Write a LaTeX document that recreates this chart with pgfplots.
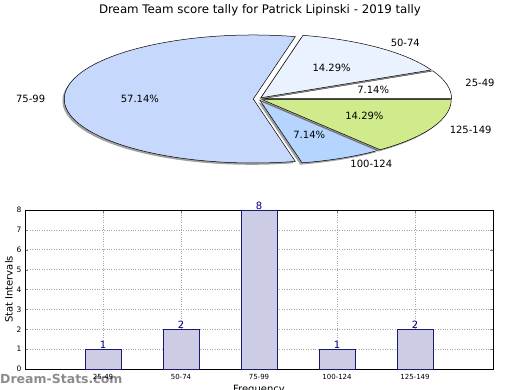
\documentclass[border=0pt]{standalone}
\usepackage{pgfplots}
\pgfplotsset{compat=1.18}
\usepackage{fontspec}
\setmainfont{DejaVu Sans}
\definecolor{pA}{HTML}{EBF2FF}
\definecolor{pB}{HTML}{C6D9FD}
\definecolor{pC}{HTML}{B5D5FF}
\definecolor{pD}{HTML}{D0EB8B}
\definecolor{barfill}{HTML}{CCCCE5}
\definecolor{baredge}{HTML}{191970}
\definecolor{lblnavy}{HTML}{000080}
\definecolor{wm}{HTML}{8C8C8C}
\begin{document}
\begin{tikzpicture}[x=1pt,y=1pt]
\useasboundingbox (0,0) rectangle (520,390);
\clip (0,0) rectangle (520,390);
\node[font=\fontsize{11.8}{14}\selectfont] at (260,380) {Dream Team score tally for Patrick Lipinski - 2019 tally};
% pie
\begin{axis}[at={(258pt,291pt)}, anchor=center, scale only axis, width=378pt, height=128pt,
  xmin=-1, xmax=1, ymin=-1, ymax=1, hide axis, clip=false]
\addplot[draw=none] coordinates {(0,0)};
\pgfplotsextra{
  \gdef\cum{0}
  \foreach \v/\lab/\pct/\col in {1/25-49/7.14/white, 2/50-74/14.29/pA, 8/75-99/57.14/pB, 1/100-124/7.14/pC, 2/125-149/14.29/pD} {
    \pgfmathsetmacro\a{\cum/14*360}
    \pgfmathsetmacro\b{(\cum+\v)/14*360}
    \pgfmathsetmacro\m{(\a+\b)/2}
    \pgfmathsetmacro\ox{0.025*cos(\m)}
    \pgfmathsetmacro\oy{0.025*sin(\m)}
    \pgfmathsetmacro\sx{\ox+cos(\a)}
    \pgfmathsetmacro\sy{\oy+sin(\a)}
    \pgfmathsetmacro\lx{\ox+1.1*cos(\m)}
    \pgfmathsetmacro\ly{\oy+1.1*sin(\m)}
    \pgfmathsetmacro\px{\ox+0.6*cos(\m)}
    \pgfmathsetmacro\py{\oy+0.6*sin(\m)}
    \pgfmathsetmacro\cm{cos(\m)}
    \fill[gray, opacity=0.75, shift={(-1.8pt,-1.8pt)}] (axis cs:\ox,\oy) -- (axis cs:\sx,\sy) arc[start angle=\a, end angle=\b, x radius=189pt, y radius=64pt] -- cycle;
    \filldraw[fill=\col, draw=black, line width=0.5pt] (axis cs:\ox,\oy) -- (axis cs:\sx,\sy) arc[start angle=\a, end angle=\b, x radius=189pt, y radius=64pt] -- cycle;
    \ifdim \cm pt > 0pt
      \node[anchor=west, inner sep=0pt, font=\fontsize{10}{12}\selectfont] at (axis cs:\lx,\ly) {\lab};
    \else
      \node[anchor=east, inner sep=0pt, font=\fontsize{10}{12}\selectfont] at (axis cs:\lx,\ly) {\lab};
    \fi
    \node[font=\fontsize{10}{12}\selectfont] at (axis cs:\px,\py) {\pct\%};
    \pgfmathsetmacro\c{\cum+\v}
    \xdef\cum{\c}
  }
}
\end{axis}
\node[anchor=west, inner sep=0pt, text=wm, font=\fontsize{12.5}{15}\selectfont\bfseries] at (0,11) {Dream-Stats.com};
% bars
\begin{axis}[at={(25pt,21pt)}, anchor=south west, scale only axis, width=468pt, height=159pt,
  xmin=-1, xmax=5, ymin=0, ymax=8,
  xtick={0,1,2,3,4}, xticklabels={25-49,50-74,75-99,100-124,125-149},
  ytick={0,1,...,8},
  /pgf/number format/assume math mode=true,
  xticklabel style={font=\fontsize{7}{8}\selectfont, yshift=-1.5pt},
  yticklabel style={font=\fontsize{7.5}{9}\selectfont},
  major tick length=3pt,
  grid=major, grid style={dotted, gray!70, line width=0.6pt},
  axis line style={line width=0.6pt},
  ylabel={Stat Intervals}, xlabel={Frequency},
  label style={font=\fontsize{10}{12}\selectfont},
  ylabel style={yshift=-3pt},
  xlabel style={yshift=1pt},
  clip=false]
\addplot[ybar, bar width=0.46, fill=barfill, draw=baredge, line width=0.6pt,
  nodes near coords, nodes near coords style={lblnavy, font=\fontsize{10}{12}\selectfont, anchor=south, inner sep=0.5pt}]
  coordinates {(0,1) (1,2) (2,8) (3,1) (4,2)};
\end{axis}
\end{tikzpicture}
\end{document}
